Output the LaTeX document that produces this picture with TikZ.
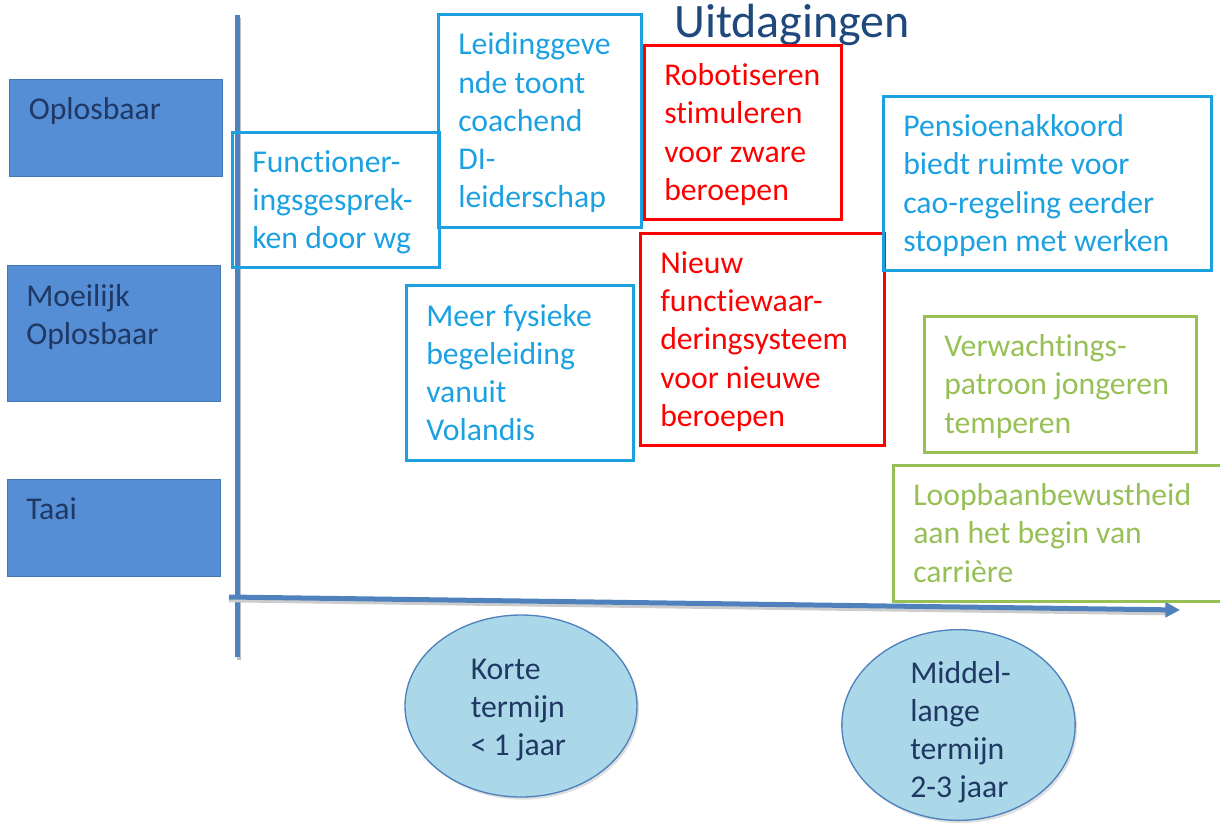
\documentclass[tikz,border=0pt]{standalone}
\usepackage{fontspec}
\setmainfont{Carlito}[Ligatures=NoCommon]
\usetikzlibrary{arrows.meta,shapes.geometric,shadows}
\definecolor{cyanc}{RGB}{27,161,226}
\definecolor{redc}{RGB}{255,0,0}
\definecolor{greenc}{RGB}{150,192,85}
\definecolor{titlec}{RGB}{31,73,125}
\definecolor{navyc}{RGB}{31,56,100}
\definecolor{axisc}{RGB}{79,129,189}
\definecolor{lboxc}{RGB}{85,142,213}
\definecolor{lboxd}{RGB}{70,120,185}
\definecolor{ellc}{RGB}{170,216,232}
\newcommand\boxfont{\fontsize{23.8}{28.7}\selectfont}
\begin{document}
\begin{tikzpicture}[x=0.75pt,y=-0.75pt,
  tbox/.style={draw=#1,text=#1,line width=1.9pt,rectangle,anchor=north west,
    align=flush left,inner xsep=15pt,inner ysep=0pt,font=\boxfont,
    execute at begin node={\spaceskip=0pt\xspaceskip=0pt\rule{0pt}{24.6pt}},execute at end node=\strut},
  lbox/.style={draw=lboxd,fill=lboxc,line width=0.6pt,rectangle,anchor=north west,inner sep=0pt},
  llabel/.style={text=navyc,font=\boxfont,anchor=base west,inner sep=0pt},
  ell/.style={ellipse,draw=axisc,fill=ellc,line width=1pt,inner sep=0pt,
    drop shadow={shadow xshift=1.5pt,shadow yshift=-2pt,opacity=0.25}},
  axis/.style={draw=axisc,line width=3.75pt}
]
\useasboundingbox (0,0) rectangle (1220,822);

% title
\node[text=titlec,font=\fontsize{36}{42}\selectfont,anchor=base west,inner sep=0pt] (title) at (674,37) {Uitdagingen};

% left category boxes
\node[lbox,minimum width=159.75pt,minimum height=72.75pt] (opl) at (9,79) {};
\node[llabel] (opltxt) at (28.5,119) {Oplosbaar};
\node[lbox,minimum width=159.75pt,minimum height=102pt] (moe) at (7,265) {};
\node[llabel] (moetxt) at (26,306) {\begin{tabular}[t]{@{}l@{}}Moeilijk\\Oplosbaar\end{tabular}};
\node[lbox,minimum width=159.75pt,minimum height=72.75pt] (taai) at (7,479) {};
\node[llabel] (taaitxt) at (26,519) {Taai};

% axes
\coordinate (vtop) at (237,15);
\coordinate (vbot) at (237,657);
\coordinate (hstart) at (229,597);
\coordinate (hend) at (1180,610);
\draw[draw=black!25,line width=3pt] ([xshift=1.5pt,yshift=-2pt]vtop) -- ([xshift=1.5pt,yshift=-2pt]vbot);
\draw[axis] (vtop) -- (vbot);
\draw[draw=black!20,line width=3pt] ([yshift=-2.5pt]hstart) -- ([yshift=-2.5pt,xshift=-8pt]hend);
\draw[axis,-{Triangle[length=11pt,width=11pt]}] (hstart) -- (hend);

% challenge boxes
\node[tbox=cyanc,minimum width=155.25pt,minimum height=101.25pt,text width=125.25pt] (func) at (231,131)
  {Functioner-\\ingsgesprek-\\ken door wg};
\node[tbox=cyanc,minimum width=152.25pt,minimum height=159.75pt,text width=122.25pt] (leid) at (437,13)
  {Leidinggeve\\nde toont\\coachend\\DI-\\leiderschap};
\node[tbox=redc,minimum width=147.75pt,minimum height=130.5pt,text width=117.75pt] (robot) at (643,44)
  {Robotiseren\\stimuleren\\voor zware\\beroepen};
\node[tbox=redc,minimum width=183pt,minimum height=159pt,text width=153pt] (nieuw) at (639,232)
  {Nieuw\\functiewaar-\\deringsysteem\\voor nieuwe\\beroepen};
\node[tbox=cyanc,minimum width=246pt,minimum height=130.5pt,text width=216pt] (pens) at (882,95)
  {Pensioenakkoord\\biedt ruimte voor\\cao-regeling eerder\\stoppen met werken};
\node[tbox=cyanc,minimum width=170.25pt,minimum height=131.25pt,text width=140.25pt] (meer) at (405,284)
  {Meer fysieke\\begeleiding\\vanuit\\Volandis};
\node[tbox=greenc,minimum width=204pt,minimum height=102pt,text width=174pt] (verw) at (923,315)
  {Verwachtings-\\patroon jongeren\\temperen};
\node[tbox=greenc,minimum width=258pt,minimum height=102pt,text width=228pt] (loop) at (892,464)
  {Loopbaanbewustheid\\aan het begin van\\carrière};

% time ellipses
\node[ell,minimum width=174pt,minimum height=136.5pt] (korte) at (521,706) {};
\node[llabel] (kortetxt) at (470.5,679) {\begin{tabular}[t]{@{}l@{}}Korte\\termijn\\< 1 jaar\end{tabular}};
\node[ell,minimum width=175pt,minimum height=143pt] (middel) at (958.5,725) {};
\node[llabel] (middeltxt) at (910,683) {\begin{tabular}[t]{@{}l@{}}Middel-\\lange\\termijn\\2-3 jaar\end{tabular}};
\end{tikzpicture}
\end{document}
